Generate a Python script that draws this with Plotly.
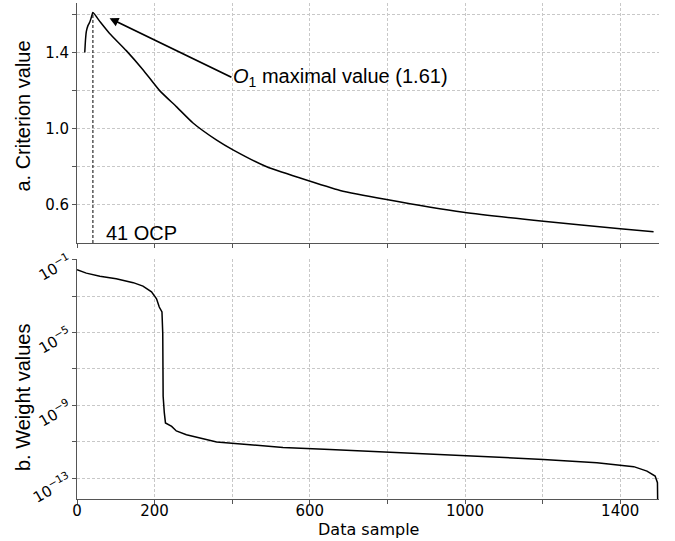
import plotly.graph_objects as go
from plotly.subplots import make_subplots

# panel a: criterion value per data sample
crit_x = [20, 22, 24, 28, 33, 37, 41, 60, 84, 127, 170, 213, 256, 299, 360, 402,
          489, 575, 678, 798, 996, 1202, 1400, 1486]
crit_val = [1.40, 1.47, 1.51, 1.54, 1.56, 1.585, 1.61, 1.56, 1.50, 1.41, 1.31, 1.20,
            1.116, 1.03, 0.94, 0.889, 0.80, 0.741, 0.676, 0.628, 0.561, 0.514, 0.475, 0.459]

# panel b: weight values per data sample
w_x = [0, 24, 59, 101, 145, 170, 192, 205, 212, 219, 221, 222, 225, 228, 244, 256,
       282, 317, 360, 446, 531, 652, 798, 996, 1202, 1340, 1400, 1435, 1469, 1490,
       1496, 1497]
w_val = [2.8e-2, 1.8e-2, 1.23e-2, 8.9e-3, 5.4e-3, 3.5e-3, 1.7e-3, 7.1e-4, 2.5e-4,
         1.35e-4, 8.9e-6, 3.2e-9, 4.0e-10, 1.1e-10, 7.1e-11, 4.0e-11, 2.5e-11,
         1.6e-11, 1.0e-11, 7.1e-12, 5.0e-12, 3.8e-12, 2.75e-12, 1.66e-12, 1.1e-12,
         7.1e-13, 5.4e-13, 4.4e-13, 2.5e-13, 1.35e-13, 5.8e-14, 1e-15]

ocp = 41
ocp_val = max(crit_val)

x_ticks = [0, 200, 400, 600, 800, 1000, 1200, 1400]
x_labels = ["0", "200", "", "600", "", "1000", "", "1400"]
a_ticks = [0.6, 0.8, 1.0, 1.2, 1.4, 1.6]
a_labels = ["0.6", "", "1.0", "", "1.4", ""]
w_ticks = [1e-1, 1e-3, 1e-5, 1e-7, 1e-9, 1e-11, 1e-13]
w_labels = ["10<sup>−1</sup>", "", "10<sup>−5</sup>", "", "10<sup>−9</sup>", "", "10<sup>−13</sup>"]

fig = make_subplots(rows=2, cols=1, shared_xaxes=True, vertical_spacing=16 / 496)

fig.add_trace(go.Scatter(x=crit_x, y=crit_val, mode="lines",
                         line=dict(color="black", width=1.5, shape="spline", smoothing=0.5)),
              row=1, col=1)
fig.add_trace(go.Scatter(x=[ocp, ocp], y=[0.4, ocp_val], mode="lines",
                         line=dict(color="black", width=1, dash="3px,2px")), row=1, col=1)
fig.add_trace(go.Scatter(x=w_x, y=w_val, mode="lines",
                         line=dict(color="black", width=1.5)), row=2, col=1)

tick_font = dict(family="DejaVu Sans", size=15, color="black")
grid = dict(showgrid=True, gridcolor="#c8c8c8", gridwidth=0.8, griddash="3px,2px",
            showline=True, linecolor="#555555", linewidth=1, ticks="outside",
            ticklen=4, tickcolor="#555555", zeroline=False, tickfont=tick_font,
            automargin=False)

fig.update_xaxes(range=[0, 1500], tickmode="array", tickvals=x_ticks, **grid)
fig.update_xaxes(showticklabels=False, row=1, col=1)
fig.update_xaxes(ticktext=x_labels, ticklabelstandoff=-6, row=2, col=1)
fig.update_yaxes(range=[0.40, 1.66], tickmode="array", tickvals=a_ticks,
                 ticktext=a_labels, row=1, col=1, **grid)
fig.update_yaxes(type="log", range=[-14.13, -0.97], tickmode="array", tickvals=w_ticks,
                 ticktext=w_labels, tickangle=-30, row=2, col=1, **grid)

label_font = dict(family="Liberation Sans", size=20, color="black")
fig.add_annotation(x=0, xref="paper", xshift=-54, xanchor="center", y=0.771, yref="paper",
                   yanchor="middle", text="a. Criterion value", textangle=-90,
                   showarrow=False, font=label_font)
fig.add_annotation(x=0, xref="paper", xshift=-54, xanchor="center", y=0.2056, yref="paper",
                   yanchor="middle", text="b. Weight values", textangle=-90,
                   showarrow=False, font=label_font)
fig.add_annotation(x=0.5, xref="paper", y=-0.0605, yref="paper", yanchor="middle",
                   text="Data sample", showarrow=False,
                   font=dict(family="DejaVu Sans", size=16, color="black"))

fig.add_annotation(x=84, y=1.58, xref="x", yref="y", ax=398, ay=1.27, axref="x", ayref="y",
                   text="<i>O</i><sub>1</sub> maximal value (1.61)", xanchor="left",
                   showarrow=True, arrowhead=2, arrowsize=1, arrowwidth=1.8,
                   arrowcolor="black", standoff=0, font=label_font)
fig.add_annotation(x=69, y=0.455, xref="x", yref="y", text="41 OCP", xanchor="left",
                   showarrow=False, font=label_font)

fig.update_layout(width=675, height=541, margin=dict(l=77, r=16, t=3, b=42),
                  plot_bgcolor="white", paper_bgcolor="white", showlegend=False)

fig.write_html("out.html", config={"displayModeBar": False},
               post_script="document.body.style.margin='0';")
